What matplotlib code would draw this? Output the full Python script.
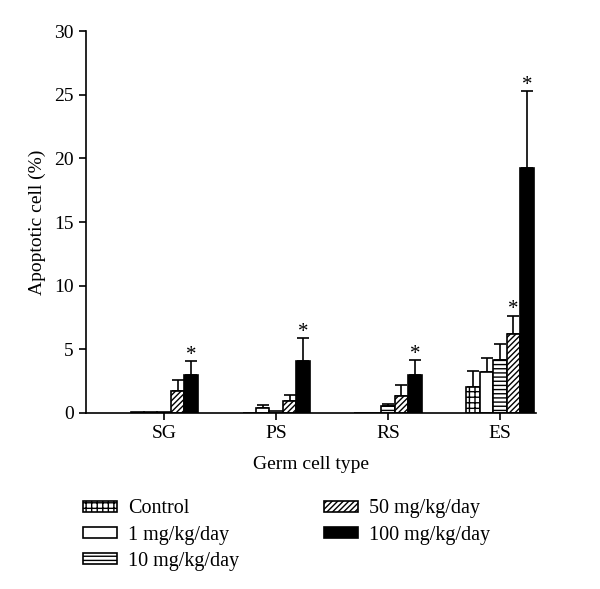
import numpy as np
import matplotlib.pyplot as plt
from matplotlib.patches import Patch

plt.rcParams['font.family'] = ['Liberation Serif', 'DejaVu Serif']
plt.rcParams['hatch.linewidth'] = 1.0

# germ cell types and dose groups
cell_types = ['SG', 'PS', 'RS', 'ES']
doses = ['Control', '1 mg/kg/day', '10 mg/kg/day', '50 mg/kg/day', '100 mg/kg/day']

# apoptotic cell (%) per dose, one value per cell type
control = [0.05, 0.0, 0.0, 2.07]
dose_1 = [0.1, 0.42, 0.0, 3.25]
dose_10 = [0.1, 0.12, 0.55, 4.15]
dose_50 = [1.75, 0.95, 1.35, 6.2]
dose_100 = [2.95, 4.1, 3.0, 19.25]

# upper error (SD)
err_control = [0.0, 0.0, 0.0, 1.25]
err_1 = [0.0, 0.2, 0.0, 1.1]
err_10 = [0.0, 0.0, 0.15, 1.25]
err_50 = [0.8, 0.45, 0.85, 1.45]
err_100 = [1.15, 1.75, 1.15, 6.05]

# significance marks (*) for the 50 and 100 mg groups
sig_50 = [False, False, False, True]
sig_100 = [True, True, True, True]

values = [control, dose_1, dose_10, dose_50, dose_100]
errors = [err_control, err_1, err_10, err_50, err_100]
sigs = [None, None, None, sig_50, sig_100]
hatches = ['+++', '', '----', '//////', '']
faces = ['white', 'white', 'white', 'white', 'black']

fig = plt.figure(figsize=(6, 5.89), dpi=100)
ax = fig.add_axes([0.143, 0.299, 0.75, 0.648])

x = np.arange(len(cell_types))
width = 0.12
for i in range(len(doses)):
    pos = x + (i - 2) * width
    ax.bar(pos, values[i], width, color=faces[i], edgecolor='black',
           linewidth=1.2, hatch=hatches[i], zorder=2)
    errs = np.array(errors[i])
    vals = np.array(values[i])
    has = errs > 0
    ax.errorbar(pos[has], vals[has], yerr=[np.zeros(has.sum()), errs[has]],
                fmt='none', ecolor='black', elinewidth=1.2, capsize=4.3,
                capthick=1.2, zorder=1)
    if sigs[i] is not None:
        for p, v, e, s in zip(pos, vals, errs, sigs[i]):
            if s:
                ax.text(p, v + e - 0.3, '*', ha='center', va='bottom',
                        fontsize=15)

ax.set_xlim(-0.70, 3.32)
ax.set_ylim(0, 30)
ax.set_yticks(range(0, 31, 5))
ax.set_xticks(x)
ax.set_xticklabels(cell_types)
ax.spines['top'].set_visible(False)
ax.spines['right'].set_visible(False)
ax.spines['left'].set_linewidth(1.2)
ax.spines['bottom'].set_linewidth(1.2)
ax.tick_params(axis='both', labelsize=14, width=1.2, length=5, direction='out')
ax.set_ylabel('Apoptotic cell (%)', fontsize=14, labelpad=6)
ax.set_xlabel('Germ cell type', fontsize=14, labelpad=10)

handles = [Patch(facecolor=faces[i], edgecolor='black', hatch=hatches[i],
                 linewidth=1.2, label=doses[i]) for i in range(len(doses))]
fig.legend(handles=handles, ncol=2, loc='upper left',
           bbox_to_anchor=(0.138, 0.152),
           bbox_transform=fig.transFigure, frameon=False, fontsize=14.5,
           borderpad=0, borderaxespad=0,
           handlelength=1.7, handleheight=0.5, handletextpad=0.55,
           labelspacing=0.35, columnspacing=4.2)

fig.savefig('out.png', dpi=100)
